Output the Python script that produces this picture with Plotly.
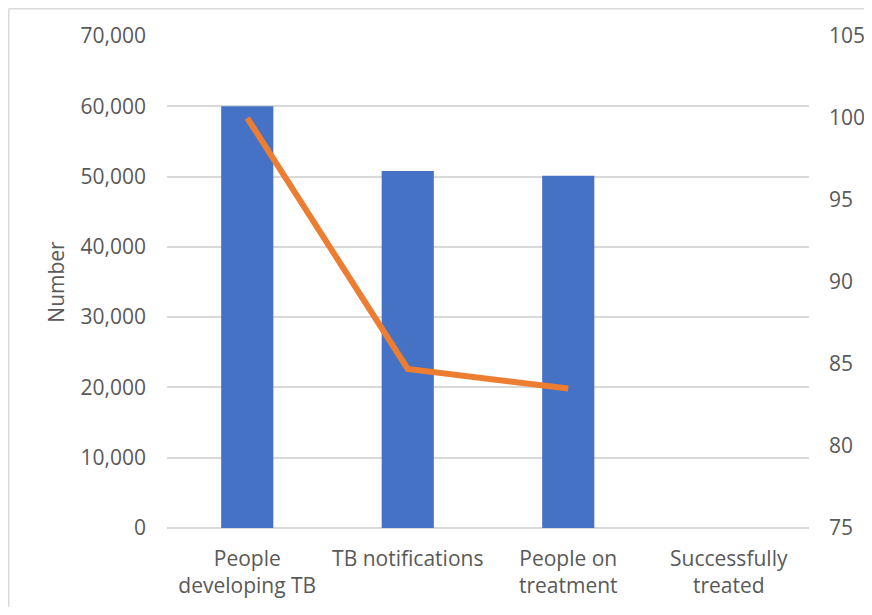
import plotly.graph_objects as go

categories = ["People<br>developing TB", "TB notifications", "People on<br>treatment", "Successfully<br>treated"]
numbers = [60000, 50800, 50100, None]
percent = [100, 84.7, 83.5, None]

FONT = "Open Sans"
GREY = "#595959"

fig = go.Figure()
fig.add_trace(go.Bar(
    x=categories, y=numbers, name="Number",
    marker=dict(color="#4672C6", line=dict(width=0)),
    width=0.325,
))
fig.add_trace(go.Scatter(
    x=categories, y=percent, name="Percent", yaxis="y2",
    mode="lines", line=dict(color="#ED7D31", width=6),
))

# page adds an 8px body margin; figure sized to fit the 872x615 window
L, T, PW, PH = 159, 28, 642, 492
W, H = 856, 599

fig.update_layout(
    width=W, height=H,
    margin=dict(l=L, r=W - L - PW, t=T, b=H - T - PH, autoexpand=False),
    paper_bgcolor="white", plot_bgcolor="white",
    showlegend=False,
    font=dict(family=FONT, size=20, color=GREY),
    xaxis=dict(
        showgrid=False, showline=False, ticks="", automargin=False,
        tickfont=dict(family=FONT, size=21, color=GREY),
        ticklabelstandoff=16,
    ),
    yaxis=dict(
        range=[0, 70000], dtick=10000, tickformat=",",
        showgrid=True, gridcolor="#D9D9D9", gridwidth=1.5,
        zeroline=True, zerolinecolor="#D9D9D9", zerolinewidth=1.5,
        ticks="", ticklen=0, automargin=False,
        tickfont=dict(family=FONT, size=21, color=GREY),
        ticklabelstandoff=20,
        title=dict(text="Number", font=dict(family=FONT, size=21, color=GREY), standoff=10),
    ),
    yaxis2=dict(
        overlaying="y", side="right",
        range=[75, 105], dtick=5, automargin=False,
        showgrid=False, zeroline=False, ticks="",
        tickfont=dict(family=FONT, size=21, color=GREY),
        ticklabelstandoff=19,
    ),
    shapes=[
        dict(type="line", xref="paper", yref="paper",
             x0=(0.75 - L) / PW, x1=(W - L) / PW,
             y0=1 + (T - 0.75) / PH, y1=1 + (T - 0.75) / PH,
             line=dict(color="#D9D9D9", width=1.5)),
        dict(type="line", xref="paper", yref="paper",
             x0=(0.75 - L) / PW, x1=(0.75 - L) / PW,
             y0=1 + (T - 0.75) / PH, y1=-(H - T - PH) / PH,
             line=dict(color="#D9D9D9", width=1.5)),
    ],
)

fig.write_html("out.html")
